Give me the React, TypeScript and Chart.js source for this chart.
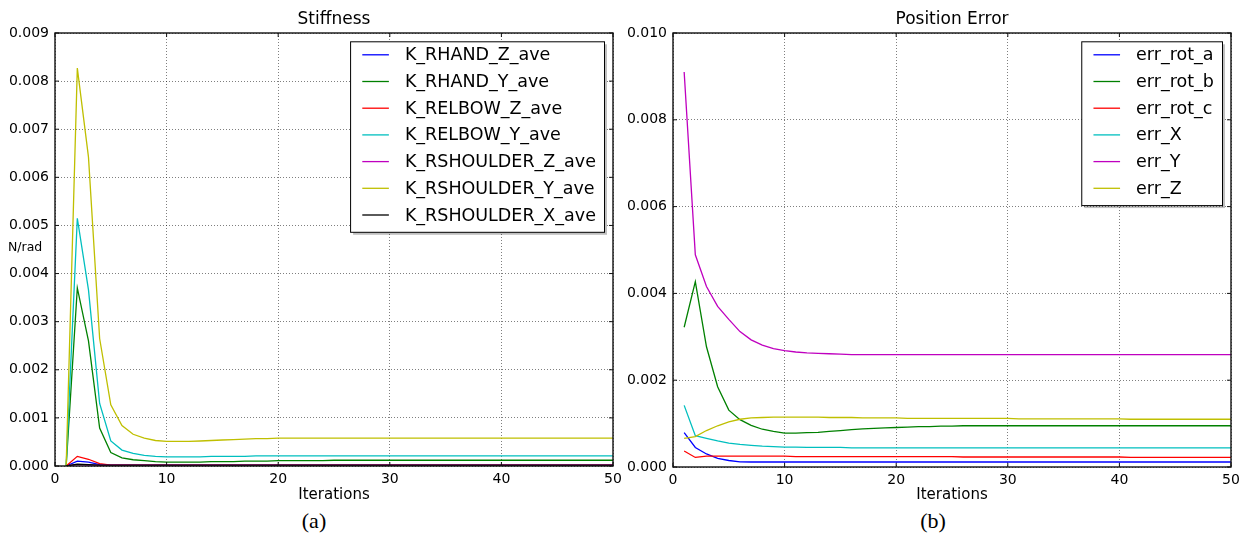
import React, { useEffect, useRef } from 'react';
import { Chart, registerables } from 'chart.js';
Chart.register(...registerables);

const FONT = '"DejaVu Sans", sans-serif';

const iterations = [
  1, 2, 3, 4, 5, 6, 7, 8, 9, 10,
  11, 12, 13, 14, 15, 16, 17, 18, 19, 20,
  21, 22, 23, 24, 25, 26, 27, 28, 29, 30,
  31, 32, 33, 34, 35, 36, 37, 38, 39, 40,
  41, 42, 43, 44, 45, 46, 47, 48, 49, 50,
];

// ---- Stiffness (a) ----
const kRhandZ = [
  0, 0.0001, 0.00008, 0.00003, 0.00001, 0.00001, 0.00001, 0.00001, 0.00001, 0.00001,
  0.00001, 0.00001, 0.00001, 0.00001, 0.00001, 0.00001, 0.00001, 0.00001, 0.00001, 0.00001,
  0.00001, 0.00001, 0.00001, 0.00001, 0.00001, 0.00001, 0.00001, 0.00001, 0.00001, 0.00001,
  0.00001, 0.00001, 0.00001, 0.00001, 0.00001, 0.00001, 0.00001, 0.00001, 0.00001, 0.00001,
  0.00001, 0.00001, 0.00001, 0.00001, 0.00001, 0.00001, 0.00001, 0.00001, 0.00001, 0.00001,
];
const kRhandY = [
  0, 0.0037, 0.0026, 0.00079, 0.00028, 0.00017, 0.00013, 0.00011, 0.00009, 0.00008,
  0.00008, 0.00008, 0.00008, 0.00009, 0.00009, 0.00009, 0.0001, 0.0001, 0.0001, 0.00011,
  0.00011, 0.00011, 0.00011, 0.00011, 0.00012, 0.00012, 0.00012, 0.00012, 0.00012, 0.00012,
  0.00012, 0.00012, 0.00012, 0.00012, 0.00012, 0.00012, 0.00012, 0.00012, 0.00012, 0.00012,
  0.00012, 0.00012, 0.00012, 0.00012, 0.00012, 0.00012, 0.00012, 0.00012, 0.00012, 0.00012,
];
const kRelbowZ = [
  0, 0.0002, 0.00014, 0.00005, 0.00002, 0.00002, 0.00002, 0.00002, 0.00002, 0.00002,
  0.00002, 0.00002, 0.00002, 0.00002, 0.00002, 0.00002, 0.00002, 0.00002, 0.00002, 0.00002,
  0.00002, 0.00002, 0.00002, 0.00002, 0.00002, 0.00002, 0.00002, 0.00002, 0.00002, 0.00002,
  0.00002, 0.00002, 0.00002, 0.00002, 0.00002, 0.00002, 0.00002, 0.00002, 0.00002, 0.00002,
  0.00002, 0.00002, 0.00002, 0.00002, 0.00002, 0.00002, 0.00002, 0.00002, 0.00002, 0.00002,
];
const kRelbowY = [
  0, 0.00515, 0.00366, 0.0013, 0.00052, 0.00033, 0.00026, 0.00022, 0.0002, 0.00019,
  0.00019, 0.00019, 0.00019, 0.0002, 0.0002, 0.0002, 0.0002, 0.00021, 0.00021, 0.00021,
  0.00021, 0.00021, 0.00021, 0.00021, 0.00021, 0.00021, 0.00021, 0.00021, 0.00021, 0.00021,
  0.00021, 0.00021, 0.00021, 0.00021, 0.00021, 0.00021, 0.00021, 0.00021, 0.00021, 0.00021,
  0.00021, 0.00021, 0.00021, 0.00021, 0.00021, 0.00021, 0.00021, 0.00021, 0.00021, 0.00021,
];
const kRshoulderZ = [
  0, 0.00003, 0.00002, 0.00002, 0.00002, 0.00002, 0.00002, 0.00002, 0.00002, 0.00002,
  0.00002, 0.00002, 0.00002, 0.00002, 0.00002, 0.00002, 0.00002, 0.00002, 0.00002, 0.00002,
  0.00002, 0.00002, 0.00002, 0.00002, 0.00002, 0.00002, 0.00002, 0.00002, 0.00002, 0.00002,
  0.00002, 0.00002, 0.00002, 0.00002, 0.00002, 0.00002, 0.00002, 0.00002, 0.00002, 0.00002,
  0.00002, 0.00002, 0.00002, 0.00002, 0.00002, 0.00002, 0.00002, 0.00002, 0.00002, 0.00002,
];
const kRshoulderY = [
  0, 0.00827, 0.00642, 0.00265, 0.00127, 0.00084, 0.00066, 0.00058, 0.00053, 0.00051,
  0.00051, 0.00051, 0.00052, 0.00053, 0.00054, 0.00055, 0.00056, 0.00057, 0.00057, 0.00058,
  0.00058, 0.00058, 0.00058, 0.00058, 0.00058, 0.00058, 0.00058, 0.00058, 0.00058, 0.00058,
  0.00058, 0.00058, 0.00058, 0.00058, 0.00058, 0.00058, 0.00058, 0.00058, 0.00058, 0.00058,
  0.00058, 0.00058, 0.00058, 0.00058, 0.00058, 0.00058, 0.00058, 0.00058, 0.00058, 0.00058,
];
const kRshoulderX = [
  0, 0.00004, 0.00003, 0.00002, 0.00002, 0.00002, 0.00002, 0.00002, 0.00002, 0.00002,
  0.00002, 0.00002, 0.00002, 0.00002, 0.00002, 0.00002, 0.00002, 0.00002, 0.00002, 0.00002,
  0.00002, 0.00002, 0.00002, 0.00002, 0.00002, 0.00002, 0.00002, 0.00002, 0.00002, 0.00002,
  0.00002, 0.00002, 0.00002, 0.00002, 0.00002, 0.00002, 0.00002, 0.00002, 0.00002, 0.00002,
  0.00002, 0.00002, 0.00002, 0.00002, 0.00002, 0.00002, 0.00002, 0.00002, 0.00002, 0.00002,
];

// ---- Position Error (b) ----
const errRotA = [
  0.00079, 0.00045, 0.0003, 0.0002, 0.00015, 0.00012, 0.000115, 0.000115, 0.000115, 0.000115,
  0.000115, 0.000115, 0.000115, 0.000115, 0.000115, 0.000115, 0.000115, 0.000115, 0.000115, 0.000115,
  0.000115, 0.000115, 0.000115, 0.000115, 0.000115, 0.000115, 0.000115, 0.000115, 0.000115, 0.000115,
  0.000115, 0.000115, 0.000115, 0.000115, 0.000115, 0.000115, 0.000115, 0.000115, 0.000115, 0.000115,
  0.000115, 0.000115, 0.000115, 0.000115, 0.000115, 0.000115, 0.000115, 0.000115, 0.000115, 0.000115,
];
const errRotB = [
  0.00322, 0.00427, 0.00277, 0.00185, 0.00131, 0.00109, 0.00096, 0.00087, 0.00082, 0.00078,
  0.00078, 0.00079, 0.0008, 0.00082, 0.00084, 0.00086, 0.00088, 0.00089, 0.0009, 0.00091,
  0.00092, 0.00093, 0.00093, 0.00094, 0.00094, 0.00095, 0.00095, 0.00095, 0.00095, 0.00095,
  0.00095, 0.00095, 0.00095, 0.00095, 0.00095, 0.00095, 0.00095, 0.00095, 0.00095, 0.00095,
  0.00095, 0.00095, 0.00095, 0.00095, 0.00095, 0.00095, 0.00095, 0.00095, 0.00095, 0.00095,
];
const errRotC = [
  0.00037, 0.00022, 0.00025, 0.00025, 0.00025, 0.00025, 0.00025, 0.00025, 0.00025, 0.00025,
  0.00024, 0.00024, 0.00024, 0.00024, 0.00024, 0.00024, 0.00024, 0.00024, 0.00024, 0.00024,
  0.00024, 0.00024, 0.00024, 0.00024, 0.00024, 0.00023, 0.00023, 0.00023, 0.00023, 0.00023,
  0.00023, 0.00023, 0.00023, 0.00023, 0.00023, 0.00023, 0.00023, 0.00023, 0.00023, 0.00023,
  0.00022, 0.00022, 0.00022, 0.00022, 0.00022, 0.00022, 0.00022, 0.00022, 0.00022, 0.00022,
];
const errX = [
  0.00142, 0.00072, 0.00066, 0.0006, 0.00055, 0.00052, 0.0005, 0.00048, 0.00047, 0.00046,
  0.00046, 0.00045, 0.00045, 0.00045, 0.00045, 0.00044, 0.00044, 0.00044, 0.00044, 0.00044,
  0.00044, 0.00044, 0.00044, 0.00044, 0.00044, 0.00044, 0.00044, 0.00044, 0.00044, 0.00044,
  0.00044, 0.00044, 0.00044, 0.00044, 0.00044, 0.00044, 0.00044, 0.00044, 0.00044, 0.00044,
  0.00044, 0.00044, 0.00044, 0.00044, 0.00044, 0.00044, 0.00044, 0.00044, 0.00044, 0.00044,
];
const errY = [
  0.0091, 0.00489, 0.00416, 0.0037, 0.0034, 0.00312, 0.00293, 0.00281, 0.00273, 0.00268,
  0.00265, 0.00263, 0.00262, 0.00261, 0.0026, 0.00259, 0.00259, 0.00259, 0.00259, 0.00259,
  0.00259, 0.00259, 0.00259, 0.00259, 0.00259, 0.00259, 0.00259, 0.00259, 0.00259, 0.00259,
  0.00259, 0.00259, 0.00259, 0.00259, 0.00259, 0.00259, 0.00259, 0.00259, 0.00259, 0.00259,
  0.00259, 0.00259, 0.00259, 0.00259, 0.00259, 0.00259, 0.00259, 0.00259, 0.00259, 0.00259,
];
const errZ = [
  0.00066, 0.0007, 0.00084, 0.00095, 0.00104, 0.0011, 0.00113, 0.00114, 0.00115, 0.00115,
  0.00115, 0.00115, 0.00115, 0.00114, 0.00114, 0.00114, 0.00113, 0.00113, 0.00113, 0.00113,
  0.00112, 0.00112, 0.00112, 0.00112, 0.00112, 0.00112, 0.00112, 0.00112, 0.00112, 0.00112,
  0.00111, 0.00111, 0.00111, 0.00111, 0.00111, 0.00111, 0.00111, 0.00111, 0.00111, 0.00111,
  0.0011, 0.0011, 0.0011, 0.0011, 0.0011, 0.0011, 0.0011, 0.0011, 0.0011, 0.0011,
];

const stiffnessLabels = [
  'K_RHAND_Z_ave', 'K_RHAND_Y_ave', 'K_RELBOW_Z_ave', 'K_RELBOW_Y_ave',
  'K_RSHOULDER_Z_ave', 'K_RSHOULDER_Y_ave', 'K_RSHOULDER_X_ave',
];
const stiffnessSeries = [kRhandZ, kRhandY, kRelbowZ, kRelbowY, kRshoulderZ, kRshoulderY, kRshoulderX];
const stiffnessColors = ['#0000ff', '#008000', '#ff0000', '#00bfbf', '#bf00bf', '#bfbf00', '#000000'];

const errorLabels = ['err_rot_a', 'err_rot_b', 'err_rot_c', 'err_X', 'err_Y', 'err_Z'];
const errorSeries = [errRotA, errRotB, errRotC, errX, errY, errZ];
const errorColors = ['#0000ff', '#008000', '#ff0000', '#00bfbf', '#bf00bf', '#bfbf00'];

const stiffnessYTicks = { max: 0.009, step: 0.001 };
const errorYTicks = { max: 0.01, step: 0.002 };

function makeDecor(cfg: any) {
  return {
    id: 'decor_' + cfg.key,
    afterDraw(chart: any) {
      const { ctx, chartArea: a } = chart;
      const xs = chart.scales.x;
      const ys = chart.scales.y;
      ctx.save();
      // frame
      ctx.strokeStyle = '#111';
      ctx.lineWidth = 1.4;
      ctx.strokeRect(a.left, a.top, a.right - a.left, a.bottom - a.top);
      // inward ticks
      ctx.lineWidth = 1;
      ctx.beginPath();
      xs.ticks.forEach((t: any) => {
        const px = xs.getPixelForValue(t.value);
        ctx.moveTo(px, a.bottom);
        ctx.lineTo(px, a.bottom - 4);
        ctx.moveTo(px, a.top);
        ctx.lineTo(px, a.top + 4);
      });
      ys.ticks.forEach((t: any) => {
        const py = ys.getPixelForValue(t.value);
        ctx.moveTo(a.left, py);
        ctx.lineTo(a.left + 4, py);
        ctx.moveTo(a.right, py);
        ctx.lineTo(a.right - 4, py);
      });
      ctx.stroke();
      // title
      ctx.fillStyle = '#000';
      ctx.font = '17px ' + FONT;
      ctx.textAlign = 'center';
      ctx.textBaseline = 'middle';
      ctx.fillText(cfg.title, (a.left + a.right) / 2, 19.5);
      // y label
      if (cfg.ylabel) {
        ctx.font = '12.5px ' + FONT;
        ctx.textAlign = 'left';
        ctx.fillText(cfg.ylabel, 8, 248);
      }
      // legend
      const ds = chart.data.datasets;
      ctx.font = '17.5px ' + FONT;
      let maxW = 0;
      ds.forEach((d: any) => { maxW = Math.max(maxW, ctx.measureText(d.label).width); });
      const rowH = 26.7;
      const boxW = 11.7 + 26.6 + 16 + maxW + 8.6;
      const boxH = 13 + (ds.length - 1) * rowH + 17.3;
      const bx = a.right - 8.5 - boxW;
      const by = a.top + 8.8;
      ctx.fillStyle = 'rgba(0,0,0,0.25)';
      ctx.fillRect(bx + 2.5, by + 2.5, boxW, boxH);
      ctx.fillStyle = '#fff';
      ctx.fillRect(bx, by, boxW, boxH);
      ctx.strokeStyle = '#000';
      ctx.lineWidth = 1;
      ctx.strokeRect(bx, by, boxW, boxH);
      ds.forEach((d: any, i: number) => {
        const cy = by + 13 + i * rowH;
        ctx.strokeStyle = d.borderColor;
        ctx.lineWidth = 1.3;
        ctx.beginPath();
        ctx.moveTo(bx + 11.7, cy);
        ctx.lineTo(bx + 11.7 + 26.6, cy);
        ctx.stroke();
        ctx.fillStyle = '#000';
        ctx.textAlign = 'left';
        ctx.textBaseline = 'middle';
        ctx.fillText(d.label, bx + 11.7 + 26.6 + 16, cy + 1);
      });
      ctx.restore();
    },
  };
}

function buildConfig(opts: any) {
  const datasets = opts.series.map((vals: number[], i: number) => ({
    label: opts.labels[i],
    data: iterations.map((x, j) => ({ x, y: vals[j] })),
    borderColor: opts.colors[i],
    backgroundColor: opts.colors[i],
    borderWidth: 1.3,
    pointRadius: 0,
    fill: false,
    tension: 0,
    order: -i,
  }));
  const tickFont = { family: FONT, size: 14 };
  return {
    type: 'line',
    data: { datasets },
    options: {
      responsive: false,
      animation: false,
      events: [],
      layout: { padding: { top: 33, left: 0, right: opts.padRight, bottom: 0 } },
      plugins: {
        legend: { display: false },
        tooltip: { enabled: false },
        title: { display: false },
      },
      scales: {
        x: {
          type: 'linear',
          min: 0,
          max: 50,
          ticks: { stepSize: 10, color: '#000', font: tickFont, padding: 5, maxRotation: 0 },
          grid: { color: 'rgba(0,0,0,0.5)', lineWidth: 1, drawTicks: false },
          border: { display: false, dash: [1, 2] },
          title: {
            display: true,
            text: 'Iterations',
            color: '#000',
            font: { family: FONT, size: 15 },
            padding: { top: 0, bottom: 1 },
          },
          afterFit: (s: any) => {
            s.height = opts.xHeight;
            s.paddingLeft = 0;
            s.paddingRight = 0;
          },
        },
        y: {
          type: 'linear',
          min: 0,
          max: opts.yTicks.max,
          ticks: {
            stepSize: opts.yTicks.step,
            color: '#000',
            font: tickFont,
            padding: 6,
            callback: (v: any) => Number(v).toFixed(3),
          },
          grid: { color: 'rgba(0,0,0,0.5)', lineWidth: 1, drawTicks: false },
          border: { display: false, dash: [1, 2] },
          afterFit: (s: any) => {
            s.width = opts.yWidth;
            s.paddingTop = 0;
            s.paddingBottom = 0;
          },
        },
      },
    },
    plugins: [makeDecor({ key: opts.key, title: opts.title, ylabel: opts.ylabel })],
  };
}

function ChartCanvas({ left, width, height, opts }: any) {
  const ref = useRef<HTMLCanvasElement | null>(null);
  useEffect(() => {
    const chart = new Chart(ref.current as HTMLCanvasElement, buildConfig(opts) as any);
    return () => chart.destroy();
  }, []);
  return (
    <canvas
      ref={ref}
      width={width}
      height={height}
      style={{ position: 'absolute', left, top: 0, width, height }}
    />
  );
}

const captionStyle: any = {
  position: 'absolute',
  top: 508,
  fontFamily: '"Liberation Serif", "DejaVu Serif", serif',
  fontSize: 22,
  lineHeight: '26px',
  color: '#000',
  transform: 'translateX(-50%)',
  whiteSpace: 'nowrap',
};

export default function App() {
  return (
    <div
      style={{
        position: 'fixed',
        left: 0,
        top: 0,
        width: 1243,
        height: 534,
        background: '#fff',
        overflow: 'hidden',
      }}
    >
      <ChartCanvas
        left={0}
        width={621}
        height={505}
        opts={{
          key: 'a',
          title: 'Stiffness',
          ylabel: 'N/rad',
          labels: stiffnessLabels,
          series: stiffnessSeries,
          colors: stiffnessColors,
          yTicks: stiffnessYTicks,
          padRight: 8,
          yWidth: 55,
          xHeight: 39,
        }}
      />
      <ChartCanvas
        left={621}
        width={622}
        height={505}
        opts={{
          key: 'b',
          title: 'Position Error',
          ylabel: '',
          labels: errorLabels,
          series: errorSeries,
          colors: errorColors,
          yTicks: errorYTicks,
          padRight: 12,
          yWidth: 52,
          xHeight: 38,
        }}
      />
      <div style={{ ...captionStyle, left: 314 }}>(a)</div>
      <div style={{ ...captionStyle, left: 933 }}>(b)</div>
    </div>
  );
}
